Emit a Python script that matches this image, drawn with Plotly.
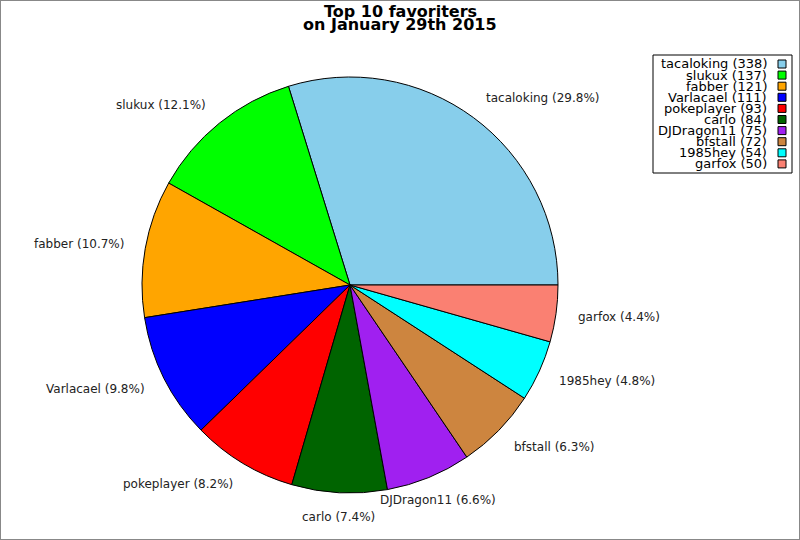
import math

import plotly.graph_objects as go

# --- data ---
names = ["tacaloking", "slukux", "fabber", "Varlacael", "pokeplayer",
         "carlo", "DJDragon11", "bfstall", "1985hey", "garfox"]
favorites = [338, 137, 121, 111, 93, 84, 75, 72, 54, 50]
colors = ["#87CEEB", "#00FF00", "#FFA500", "#0000FF", "#FF0000",
          "#006400", "#A020F0", "#CD853F", "#00FFFF", "#FA8072"]
title_lines = ["Top 10 favoriters", "on January 29th 2015"]

W, H = 800, 540
FONT = "DejaVu Sans"

# pie geometry in pixels
cx, cy, R = 350, 285, 208
dom_x = [(cx - R) / W, (cx + R) / W]
dom_y = [1 - (cy + R) / H, 1 - (cy - R) / H]

total = sum(favorites)
pcts = [100 * v / total for v in favorites]

# plotly's counterclockwise pies end the first slice at `rotation`,
# so shift it to make the first slice start at 3 o'clock
rotation = 90 - 360 * favorites[0] / total

fig = go.Figure(
    go.Pie(
        labels=names,
        values=favorites,
        sort=False,
        direction="counterclockwise",
        rotation=rotation,
        marker=dict(colors=colors, line=dict(color="black", width=1)),
        textinfo="none",
        showlegend=False,
        domain=dict(x=dom_x, y=dom_y),
        hovertemplate="%{label}: %{value} (%{percent})<extra></extra>",
    )
)

annotations = []
shapes = []

# --- slice labels, placed just outside each slice ---
r_lab = R * 1.115
pad = 4  # pull side labels a bit back towards the pie
cum = 0
for name, v, p in zip(names, favorites, pcts):
    theta = 2 * math.pi * (cum + v / 2) / total
    cum += v
    c, s = math.cos(theta), math.sin(theta)
    px_ = cx + r_lab * c
    py_ = cy - r_lab * s
    if abs(c) < 0.45:
        xa = "center"
    elif c > 0:
        xa = "left"
        px_ -= pad
    else:
        xa = "right"
        px_ += pad
    annotations.append(dict(
        x=px_ / W, y=1 - py_ / H, xref="paper", yref="paper",
        text=f"{name} ({p:.1f}%)", showarrow=False,
        xanchor=xa, yanchor="middle",
        font=dict(family=FONT, size=12, color="#222"),
    ))

# --- title ---
for i, line in enumerate(title_lines):
    annotations.append(dict(
        x=0.5, y=1 - (11 + 14 * i) / H, xref="paper", yref="paper",
        text=f"<b>{line}</b>", showarrow=False,
        xanchor="center", yanchor="middle",
        font=dict(family=FONT, size=16, color="black"),
    ))

# --- legend box (text right-aligned, swatch on the right) ---
lx0, lx1, ly0, ly1 = 653, 792, 55, 173
shapes.append(dict(type="rect", xref="paper", yref="paper",
                   x0=lx0 / W, x1=lx1 / W, y0=1 - ly1 / H, y1=1 - ly0 / H,
                   line=dict(color="black", width=1), fillcolor="white"))
for i, (name, v, col) in enumerate(zip(names, favorites, colors)):
    yc = 64 + 11.1 * i
    annotations.append(dict(
        x=769 / W, y=1 - yc / H, xref="paper", yref="paper",
        text=f"{name} ({v})", showarrow=False,
        xanchor="right", yanchor="middle",
        font=dict(family=FONT, size=13, color="black"),
    ))
    shapes.append(dict(type="rect", xref="paper", yref="paper",
                       x0=778 / W, x1=786 / W,
                       y0=1 - (yc + 4) / H, y1=1 - (yc - 4) / H,
                       line=dict(color="black", width=1), fillcolor=col))

# outer frame
shapes.append(dict(type="rect", xref="paper", yref="paper",
                   x0=0, x1=1, y0=0, y1=1,
                   line=dict(color="#888888", width=2)))

fig.update_layout(
    width=W,
    height=H,
    margin=dict(l=0, r=0, t=0, b=0),
    paper_bgcolor="white",
    plot_bgcolor="white",
    annotations=annotations,
    shapes=shapes,
    font=dict(family=FONT),
)

fig.write_html(
    "out.html",
    config={"displayModeBar": False},
    post_script="document.body.style.margin='0';",
)
